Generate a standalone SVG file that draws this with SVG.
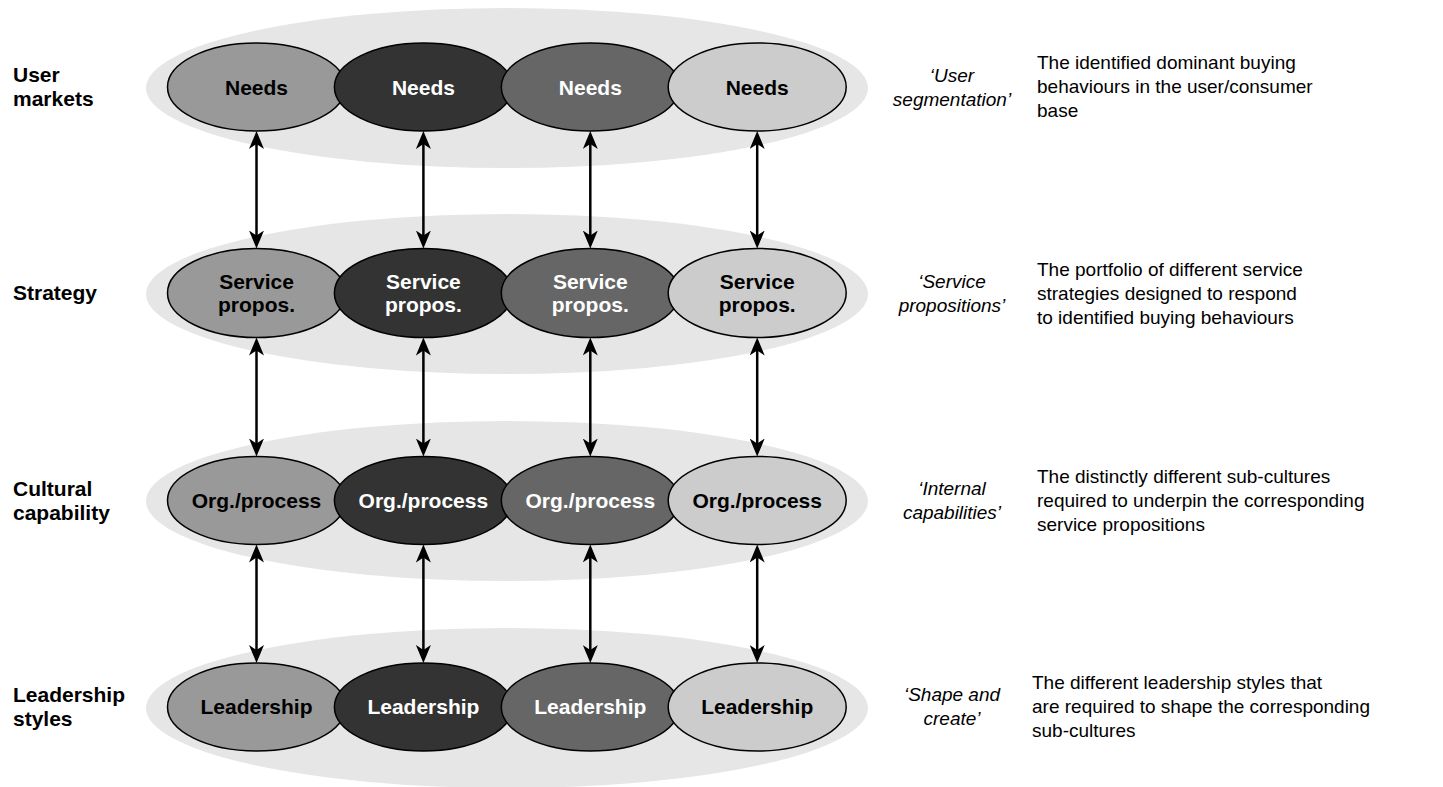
<svg xmlns="http://www.w3.org/2000/svg" width="1443" height="787" viewBox="0 0 1443 787">
<style>
.bg{fill:#e6e6e6;stroke:none}
.n{stroke:#000;stroke-width:1.5}
.c1{fill:#999999}.c2{fill:#333333}.c3{fill:#666666}.c4{fill:#cccccc}
.t{font-family:"Liberation Sans",Arial,sans-serif;font-weight:bold;font-size:21px;text-anchor:middle}
.dk{fill:#000}.lt{fill:#fff}
.lbl{font-family:"Liberation Sans",Arial,sans-serif;font-weight:bold;font-size:21px;fill:#000}
.it{font-family:"Liberation Sans",Arial,sans-serif;font-style:italic;font-size:19px;fill:#000;text-anchor:middle}
.ds{font-family:"Liberation Sans",Arial,sans-serif;font-size:19px;fill:#000}
.ar{stroke:#000;stroke-width:2.5;fill:none;marker-start:url(#ah);marker-end:url(#ah)}
</style>
<defs>
<marker id="ah" viewBox="0 0 18 15" refX="14" refY="7.5" markerWidth="18" markerHeight="15" markerUnits="userSpaceOnUse" orient="auto-start-reverse">
<path d="M18,7.5 L0,0 L5,7.5 L0,15 Z" fill="#000"/>
</marker>
</defs>
<g id="backgrounds">
<ellipse class="bg" cx="507" cy="88" rx="361" ry="80"/>
<ellipse class="bg" cx="507" cy="294" rx="361" ry="80"/>
<ellipse class="bg" cx="507" cy="501" rx="361" ry="80"/>
<ellipse class="bg" cx="507" cy="708" rx="361" ry="80"/>
</g>
<g id="row1">
<g id="needs1"><ellipse class="n c1" cx="256.5" cy="87" rx="89" ry="44"/><text class="t dk" x="256.5" y="94.5">Needs</text></g>
<g id="needs2"><ellipse class="n c2" cx="423.4" cy="87" rx="89" ry="44"/><text class="t lt" x="423.4" y="94.5">Needs</text></g>
<g id="needs3"><ellipse class="n c3" cx="590.3" cy="87" rx="89" ry="44"/><text class="t lt" x="590.3" y="94.5">Needs</text></g>
<g id="needs4"><ellipse class="n c4" cx="757.2" cy="87" rx="89" ry="44"/><text class="t dk" x="757.2" y="94.5">Needs</text></g>
</g>
<g id="row2">
<g id="svc1"><ellipse class="n c1" cx="256.5" cy="293" rx="89" ry="44.5"/><text class="t dk" x="256.5" y="288.5">Service</text><text class="t dk" x="256.5" y="312">propos.</text></g>
<g id="svc2"><ellipse class="n c2" cx="423.4" cy="293" rx="89" ry="44.5"/><text class="t lt" x="423.4" y="288.5">Service</text><text class="t lt" x="423.4" y="312">propos.</text></g>
<g id="svc3"><ellipse class="n c3" cx="590.3" cy="293" rx="89" ry="44.5"/><text class="t lt" x="590.3" y="288.5">Service</text><text class="t lt" x="590.3" y="312">propos.</text></g>
<g id="svc4"><ellipse class="n c4" cx="757.2" cy="293" rx="89" ry="44.5"/><text class="t dk" x="757.2" y="288.5">Service</text><text class="t dk" x="757.2" y="312">propos.</text></g>
</g>
<g id="row3">
<g id="org1"><ellipse class="n c1" cx="256.5" cy="500.5" rx="89" ry="44"/><text class="t dk" x="256.5" y="507.5">Org./process</text></g>
<g id="org2"><ellipse class="n c2" cx="423.4" cy="500.5" rx="89" ry="44"/><text class="t lt" x="423.4" y="507.5">Org./process</text></g>
<g id="org3"><ellipse class="n c3" cx="590.3" cy="500.5" rx="89" ry="44"/><text class="t lt" x="590.3" y="507.5">Org./process</text></g>
<g id="org4"><ellipse class="n c4" cx="757.2" cy="500.5" rx="89" ry="44"/><text class="t dk" x="757.2" y="507.5">Org./process</text></g>
</g>
<g id="row4">
<g id="lead1"><ellipse class="n c1" cx="256.5" cy="707" rx="89" ry="44"/><text class="t dk" x="256.5" y="714">Leadership</text></g>
<g id="lead2"><ellipse class="n c2" cx="423.4" cy="707" rx="89" ry="44"/><text class="t lt" x="423.4" y="714">Leadership</text></g>
<g id="lead3"><ellipse class="n c3" cx="590.3" cy="707" rx="89" ry="44"/><text class="t lt" x="590.3" y="714">Leadership</text></g>
<g id="lead4"><ellipse class="n c4" cx="757.2" cy="707" rx="89" ry="44"/><text class="t dk" x="757.2" y="714">Leadership</text></g>
</g>
<g id="connectors">
<line class="ar" x1="256.5" y1="135" x2="256.5" y2="244.5"/>
<line class="ar" x1="423.4" y1="135" x2="423.4" y2="244.5"/>
<line class="ar" x1="590.3" y1="135" x2="590.3" y2="244.5"/>
<line class="ar" x1="757.2" y1="135" x2="757.2" y2="244.5"/>
<line class="ar" x1="256.5" y1="341.5" x2="256.5" y2="452.5"/>
<line class="ar" x1="423.4" y1="341.5" x2="423.4" y2="452.5"/>
<line class="ar" x1="590.3" y1="341.5" x2="590.3" y2="452.5"/>
<line class="ar" x1="757.2" y1="341.5" x2="757.2" y2="452.5"/>
<line class="ar" x1="256.5" y1="548.5" x2="256.5" y2="659"/>
<line class="ar" x1="423.4" y1="548.5" x2="423.4" y2="659"/>
<line class="ar" x1="590.3" y1="548.5" x2="590.3" y2="659"/>
<line class="ar" x1="757.2" y1="548.5" x2="757.2" y2="659"/>
</g>
<g id="left-labels">
<text class="lbl" x="13" y="82">User</text><text class="lbl" x="13" y="106">markets</text>
<text class="lbl" x="13" y="300">Strategy</text>
<text class="lbl" x="13" y="496">Cultural</text><text class="lbl" x="13" y="520">capability</text>
<text class="lbl" x="13" y="702">Leadership</text><text class="lbl" x="13" y="726">styles</text>
</g>
<g id="italic-labels">
<text class="it" x="952" y="82">‘User</text><text class="it" x="952" y="106">segmentation’</text>
<text class="it" x="952" y="288">‘Service</text><text class="it" x="952" y="312">propositions’</text>
<text class="it" x="952" y="495">‘Internal</text><text class="it" x="952" y="519">capabilities’</text>
<text class="it" x="952" y="701">‘Shape and</text><text class="it" x="952" y="725">create’</text>
</g>
<g id="descriptions">
<text class="ds" x="1037" y="69">The identified dominant buying</text>
<text class="ds" x="1037" y="93">behaviours in the user/consumer</text>
<text class="ds" x="1037" y="117">base</text>
<text class="ds" x="1037" y="276">The portfolio of different service</text>
<text class="ds" x="1037" y="300">strategies designed to respond</text>
<text class="ds" x="1037" y="324">to identified buying behaviours</text>
<text class="ds" x="1037" y="483">The distinctly different sub-cultures</text>
<text class="ds" x="1037" y="507">required to underpin the corresponding</text>
<text class="ds" x="1037" y="531">service propositions</text>
<text class="ds" x="1032" y="689">The different leadership styles that</text>
<text class="ds" x="1032" y="713">are required to shape the corresponding</text>
<text class="ds" x="1032" y="737">sub-cultures</text>
</g>
</svg>
